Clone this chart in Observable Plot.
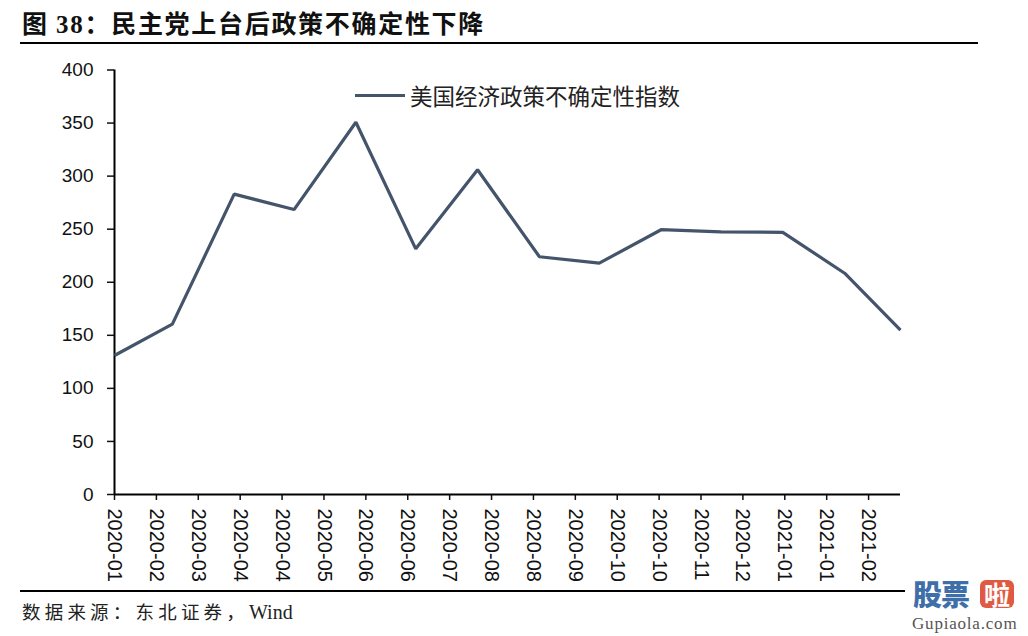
<!DOCTYPE html>
<html>
<head>
<meta charset="utf-8">
<script src="https://cdn.jsdelivr.net/npm/d3@7"></script>
<script src="https://cdn.jsdelivr.net/npm/@observablehq/plot@0.6"></script>
<style>
  html, body { margin: 0; padding: 0; background: #fff; }
  body { width: 1028px; height: 636px; position: relative; overflow: hidden; font-family: "Noto Sans CJK SC", sans-serif; }
  #title { position: absolute; left: 22px; top: 4px; font-size: 25px; font-weight: bold; color: #111; white-space: nowrap; letter-spacing: 1.7px; }
  #title .num { font-family: "Liberation Serif", serif; }
  .rule { position: absolute; left: 20px; height: 2px; background: #000; }
  #chart { position: absolute; left: 0; top: 50px; }
  #legend { position: absolute; left: 355px; top: 80px; display: flex; align-items: center; white-space: nowrap; }
  #legend .sw { width: 50px; height: 3px; background: #44546A; margin-right: 5px; }
  #legend .lb { font-size: 22.5px; color: #222; line-height: 30px; }
  #source { position: absolute; left: 22px; top: 598px; font-size: 18.5px; color: #222; white-space: nowrap; letter-spacing: 4.2px; }
  #source .en { font-family: "Liberation Serif", serif; font-size: 20px; letter-spacing: 0; }
  #wm { position: absolute; left: 905px; top: 578px; width: 123px; height: 58px; background: #fff; }
  #wm .a { position: absolute; left: 8px; top: 0px; font-size: 29px; font-weight: 900; color: #3f6fa8; line-height: 30px; height: 30px; letter-spacing: -1px; }
  #wm .b { position: absolute; left: 75px; top: 2px; width: 34px; height: 28px; background: #e05a43; border-radius: 6px; color: #fff; font-size: 26px; line-height: 28px; text-align: center; font-weight: bold; }
  #wm .c { position: absolute; left: 7px; top: 36px; font-family: "Liberation Serif", serif; font-size: 17px; line-height: 20px; color: #555; letter-spacing: 0.8px; }
</style>
</head>
<body>
<div id="title">图 <span class="num">38</span>：民主党上台后政策不确定性下降</div>
<div class="rule" style="top:42px; width:958px;"></div>
<div id="chart"></div>
<div id="legend"><div class="sw"></div><div class="lb" id="legendLabel"></div></div>
<div class="rule" style="top:590px; width:890px;"></div>
<div id="source">数据来源：东北证券，<span class="en">Wind</span></div>
<div id="wm"><div class="a">股票</div><div class="b">啦</div><div class="c">Gupiaola.com</div></div>
<script>
// ---- data ----
const seriesName = "美国经济政策不确定性指数";
const months = ["2020-01-31","2020-02-29","2020-03-31","2020-04-30","2020-05-31","2020-06-30","2020-07-31",
                "2020-08-31","2020-09-30","2020-10-31","2020-11-30","2020-12-31","2021-01-31","2021-02-28"];
const values = [131, 160.5, 283, 268.5, 350.8, 231.5, 306, 224, 218, 249.5, 247.5, 247, 208.5, 155];
const xTickDates = ["2020-01-31","2020-02-21","2020-03-13","2020-04-03","2020-04-24","2020-05-15","2020-06-05",
                    "2020-06-26","2020-07-17","2020-08-07","2020-08-28","2020-09-18","2020-10-09","2020-10-30",
                    "2020-11-20","2020-12-11","2021-01-01","2021-01-22","2021-02-12"];
const yTicks = [0, 50, 100, 150, 200, 250, 300, 350, 400];

// ---- build ----
const parse = d3.utcParse("%Y-%m-%d");
const data = months.map((m, i) => ({date: parse(m), value: values[i]}));
const ticks = xTickDates.map(parse);
const fmt = d3.utcFormat("%Y-%m");

document.getElementById("legendLabel").textContent = seriesName;

const chart = Plot.plot({
  width: 1028,
  height: 540,
  marginTop: 19.5,
  marginBottom: 96,
  marginLeft: 114,
  marginRight: 128,
  style: {background: "transparent", overflow: "visible"},
  x: {type: "utc", domain: [data[0].date, data[data.length - 1].date]},
  y: {domain: [0, 400]},
  marks: [
    Plot.axisY({ticks: yTicks, tickSize: 7, tickPadding: 14, label: null,
      fontSize: 19, fontFamily: "Liberation Sans, Arial, sans-serif", color: "#111", strokeWidth: 1.5}),
    Plot.axisX({ticks: ticks, tickFormat: fmt, tickSize: 6, tickPadding: 8, tickRotate: 90, label: null,
      fontSize: 20, fontFamily: "Liberation Sans, Arial, sans-serif", color: "#111", strokeWidth: 1.5}),
    Plot.ruleY([0], {stroke: "#000", strokeWidth: 2}),
    Plot.ruleX([data[0].date], {stroke: "#000", strokeWidth: 2}),
    Plot.line(data, {x: "date", y: "value", stroke: "#44546A", strokeWidth: 3.2, strokeLinejoin: "miter", strokeLinecap: "butt"})
  ]
});
document.getElementById("chart").appendChild(chart);
</script>
</body>
</html>
